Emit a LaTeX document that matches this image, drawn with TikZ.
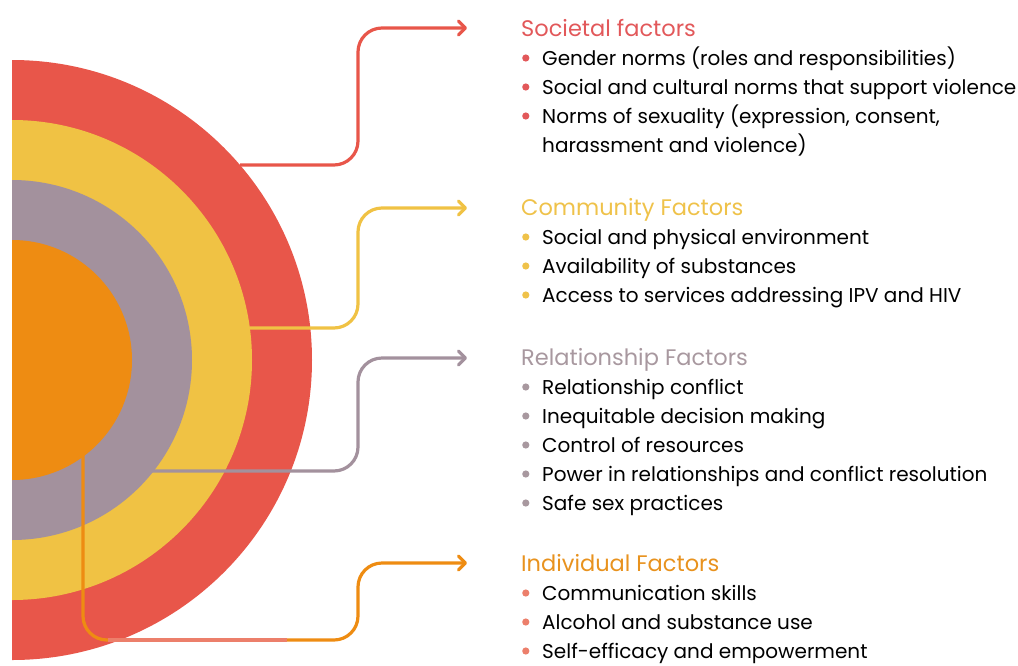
\documentclass[tikz,border=0pt]{standalone}
\usepackage{fontspec}
\setmainfont{Poppins}
\usetikzlibrary{arrows.meta}
\definecolor{ringred}{HTML}{E8564A}
\definecolor{ringyel}{HTML}{F0C244}
\definecolor{ringgry}{HTML}{A3919D}
\definecolor{ringorg}{HTML}{EE8C12}
\definecolor{txred}{HTML}{E2585A}
\definecolor{txyel}{HTML}{EFC24A}
\definecolor{txgry}{HTML}{A8989F}
\definecolor{txorg}{HTML}{E8921E}
\definecolor{salmon}{HTML}{EC7F6B}
\newcommand\bul[1]{\makebox[21pt][l]{\hspace{1pt}\tikz[baseline=-7pt]\fill[#1] (0,0) circle (3.6pt);}}
\newcommand\ind{\hspace*{21pt}}
\newcommand\ttlfont{\fontsize{22.5}{29}\selectfont}
\tikzset{
  conn/.style={line width=3.2pt, rounded corners=24pt, -{Straight Barb[length=7pt,width=14pt,line cap=round,line join=round]}},
  block/.style={anchor=base west, align=left, inner sep=0pt, font={\fontsize{20}{29}\selectfont}}
}
\begin{document}
\begin{tikzpicture}[x=1pt,y=-1pt]
\useasboundingbox (0,0) rectangle (1018,665);
% rings
\begin{scope}
\clip (12,0) rectangle (1018,665);
\fill[ringred] (12,360) circle (300pt);
\fill[ringyel] (12,360) circle (240pt);
\fill[ringgry] (12,360) circle (180pt);
\fill[ringorg] (12,360) circle (120pt);
\end{scope}
% start and end coordinates
\coordinate (s1) at (240,165);
\coordinate (e1) at (467,28);
\coordinate (s2) at (248,328);
\coordinate (e2) at (467,208);
\coordinate (s3) at (150,471);
\coordinate (e3) at (467,358);
\coordinate (s4) at (83,440);
\coordinate (e4) at (467,563);
% connectors
\draw[conn, draw=ringred] (s1) -- (358,165) -- (358,28) -- (e1);
\draw[conn, draw=ringyel] (s2) -- (358,328) -- (358,208) -- (e2);
\draw[conn, draw=ringgry] (s3) -- (358,471) -- (358,358) -- (e3);
\draw[conn, draw=ringorg] (s4) -- (83,640) -- (358,640) -- (358,563) -- (e4);
\coordinate (m1) at (108,640);
\coordinate (m2) at (287,640);
\draw[line width=3.2pt, draw=salmon] (m1) -- (m2);
% text blocks (anchored at the baseline of their last line)
\node[block] (soc) at (521,152) {{\ttlfont\color{txred}Societal factors}\\
\bul{txred}Gender norms (roles and responsibilities)\\
\bul{txred}Social and cultural norms that support violence\\
\bul{txred}Norms of sexuality (expression, consent,\\
\ind harassment and violence)};
\node[block] (com) at (521,302) {{\ttlfont\color{txyel}Community Factors}\\
\bul{txyel}Social and physical environment\\
\bul{txyel}Availability of substances\\
\bul{txyel}Access to services addressing IPV and HIV};
\node[block] (rel) at (521,510) {{\ttlfont\color{txgry}Relationship Factors}\\
\bul{txgry}Relationship conflict\\
\bul{txgry}Inequitable decision making\\
\bul{txgry}Control of resources\\
\bul{txgry}Power in relationships and conflict resolution\\
\bul{txgry}Safe sex practices};
\node[block] (ind) at (521,658) {{\ttlfont\color{txorg}Individual Factors}\\
\bul{salmon}Communication skills\\
\bul{salmon}Alcohol and substance use\\
\bul{salmon}Self-efficacy and empowerment};
\end{tikzpicture}
\end{document}
